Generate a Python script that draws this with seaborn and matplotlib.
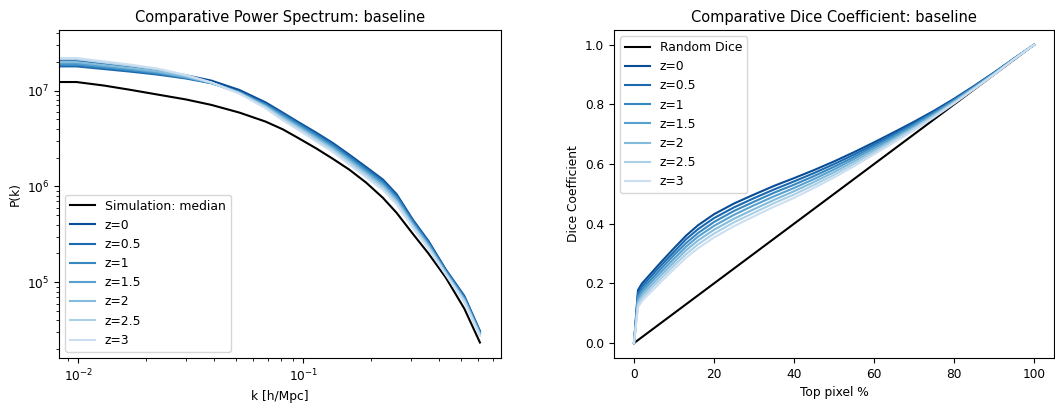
import matplotlib
matplotlib.use("Agg")
import matplotlib.pyplot as plt
import seaborn as sns

# --- power spectrum data ---
k = [0.0082, 0.0098, 0.013, 0.017, 0.0225, 0.030, 0.039, 0.052, 0.068, 0.081, 0.095,
     0.114, 0.135, 0.16, 0.19, 0.226, 0.26, 0.307, 0.36, 0.43, 0.52, 0.61]

pk_median = [1.23e7, 1.23e7, 1.13e7, 1.02e7, 9.1e6, 8.1e6, 7.1e6, 5.9e6, 4.75e6, 3.95e6, 3.2e6,
             2.5e6, 1.95e6, 1.5e6, 1.1e6, 7.6e5, 5.3e5, 3.2e5, 2.0e5, 1.12e5, 5.3e4, 2.35e4]

pk_z0 = [2.05e7, 2.05e7, 1.901e7, 1.769e7, 1.62e7, 1.45e7, 1.273e7, 1.016e7, 7.54e6, 5.9e6, 4.7e6,
         3.65e6, 2.85e6, 2.15e6, 1.6e6, 1.18e6, 8.3e5, 4.5e5, 2.7e5, 1.36e5, 7.2e4, 3.1e4]
pk_z05 = [1.79e7, 1.79e7, 1.68e7, 1.58e7, 1.47e7, 1.34e7, 1.196e7, 9.74e6, 7.3e6, 5.75e6, 4.58e6,
          3.545e6, 2.768e6, 2.083e6, 1.548e6, 1.141e6, 8.03e5, 4.38e5, 2.633e5, 1.336e5, 7.05e4, 3.05e4]
pk_z1 = [1.858e7, 1.858e7, 1.738e7, 1.629e7, 1.509e7, 1.36e7, 1.201e7, 9.67e6, 7.14e6, 5.6e6, 4.46e6,
         3.44e6, 2.685e6, 2.015e6, 1.495e6, 1.102e6, 7.76e5, 4.26e5, 2.565e5, 1.312e5, 6.9e4, 2.995e4]
pk_z15 = [1.922e7, 1.922e7, 1.792e7, 1.676e7, 1.546e7, 1.38e7, 1.205e7, 9.53e6, 6.98e6, 5.4e6, 4.3e6,
          3.30e6, 2.575e6, 1.925e6, 1.425e6, 1.05e6, 7.4e5, 4.1e5, 2.475e5, 1.28e5, 6.7e4, 2.925e4]
pk_z2 = [1.99e7, 1.99e7, 1.85e7, 1.725e7, 1.585e7, 1.40e7, 1.206e7, 9.46e6, 6.84e6, 5.25e6, 4.18e6,
         3.195e6, 2.493e6, 1.858e6, 1.373e6, 1.011e6, 7.13e5, 3.98e5, 2.408e5, 1.256e5, 6.55e4, 2.873e4]
pk_z25 = [2.122e7, 2.122e7, 1.962e7, 1.821e7, 1.661e7, 1.44e7, 1.21e7, 9.39e6, 6.7e6, 5.07e6, 4.036e6,
          3.069e6, 2.394e6, 1.777e6, 1.31e6, 9.64e5, 6.81e5, 3.836e5, 2.327e5, 1.227e5, 6.37e4, 2.81e4]
pk_z3 = [2.19e7, 2.19e7, 2.02e7, 1.87e7, 1.70e7, 1.46e7, 1.219e7, 9.32e6, 6.54e6, 4.9e6, 3.9e6,
         2.95e6, 2.3e6, 1.7e6, 1.25e6, 9.2e5, 6.5e5, 3.7e5, 2.25e5, 1.2e5, 6.2e4, 2.75e4]

# --- dice coefficient data ---
top_pct = [0, 1, 2, 3, 5, 7, 10, 13, 16, 20, 25, 30, 35, 40, 45, 50, 55, 60, 65, 70, 75, 80, 85, 90, 95, 100]
random_dice = [0, .01, .02, .03, .05, .07, .10, .13, .16, .20, .25, .30, .35, .40, .45, .50,
               .55, .60, .65, .70, .75, .80, .85, .90, .95, 1.0]

dice_z0 = [0, .178, .200, .215, .245, .275, .318, .360, .395, .432, .468, .498, .527, .553, .580, .609,
           .640, .673, .707, .742, .779, .819, .862, .907, .954, 1.0]
dice_z05 = [0, .168, .190, .205, .235, .264, .306, .348, .382, .419, .455, .486, .515, .542, .570, .600,
            .632, .666, .701, .737, .775, .816, .860, .906, .954, 1.0]
dice_z1 = [0, .159, .180, .195, .224, .253, .295, .335, .369, .406, .443, .474, .504, .531, .560, .591,
           .624, .660, .696, .733, .772, .814, .858, .905, .953, 1.0]
dice_z15 = [0, .149, .171, .185, .214, .242, .283, .323, .357, .393, .430, .462, .492, .520, .550, .582,
            .617, .653, .690, .728, .768, .811, .857, .904, .953, 1.0]
dice_z2 = [0, .139, .161, .175, .203, .231, .271, .311, .344, .380, .417, .449, .480, .509, .540, .573,
           .609, .646, .684, .723, .764, .808, .855, .902, .952, 1.0]
dice_z25 = [0, .130, .151, .165, .193, .220, .260, .298, .331, .367, .405, .437, .469, .498, .530, .564,
            .601, .640, .679, .719, .761, .806, .853, .901, .952, 1.0]
dice_z3 = [0, .120, .141, .155, .182, .209, .248, .286, .318, .354, .392, .425, .457, .487, .520, .555,
           .593, .633, .673, .714, .757, .803, .851, .900, .951, 1.0]

z_labels = ["z=0", "z=0.5", "z=1", "z=1.5", "z=2", "z=2.5", "z=3"]
pk_curves = [pk_z0, pk_z05, pk_z1, pk_z15, pk_z2, pk_z25, pk_z3]
dice_curves = [dice_z0, dice_z05, dice_z1, dice_z15, dice_z2, dice_z25, dice_z3]

colors = sns.color_palette("Blues_r", 8)[:7]

fig = plt.figure(figsize=(10.55, 4.03), dpi=100)
ax1 = fig.add_axes([0.0559, 0.1117, 0.419, 0.814])
ax2 = fig.add_axes([0.582, 0.1117, 0.417, 0.814])

# left: power spectrum
sns.lineplot(x=k, y=pk_median, color="black", lw=1.5, label="Simulation: median", ax=ax1)
for lab, vals, c in zip(z_labels, pk_curves, colors):
    sns.lineplot(x=k, y=vals, color=c, lw=1.5, label=lab, ax=ax1)
ax1.set_xscale("log")
ax1.set_yscale("log")
ax1.set_xlim(0.0082, 0.757)
ax1.set_ylim(1.62e4, 4.3e7)
ax1.set_title("Comparative Power Spectrum: baseline", fontsize=10.5)
ax1.set_xlabel("k [h/Mpc]", fontsize=8.8)
ax1.set_ylabel("P(k)", fontsize=8.8)
ax1.legend(loc="lower left", fontsize=8.9)

# right: dice coefficient
sns.lineplot(x=top_pct, y=random_dice, color="black", lw=1.5, label="Random Dice", ax=ax2)
for lab, vals, c in zip(z_labels, dice_curves, colors):
    sns.lineplot(x=top_pct, y=vals, color=c, lw=1.5, label=lab, ax=ax2)
ax2.set_xlim(-5, 105)
ax2.set_ylim(-0.05, 1.05)
ax2.set_title("Comparative Dice Coefficient: baseline", fontsize=10.5)
ax2.set_xlabel("Top pixel %", fontsize=8.8)
ax2.set_ylabel("Dice Coefficient", fontsize=8.8)
ax2.legend(loc="upper left", fontsize=8.9)

for ax in (ax1, ax2):
    ax.tick_params(labelsize=8.7)

fig.savefig("out.png", dpi=100)
